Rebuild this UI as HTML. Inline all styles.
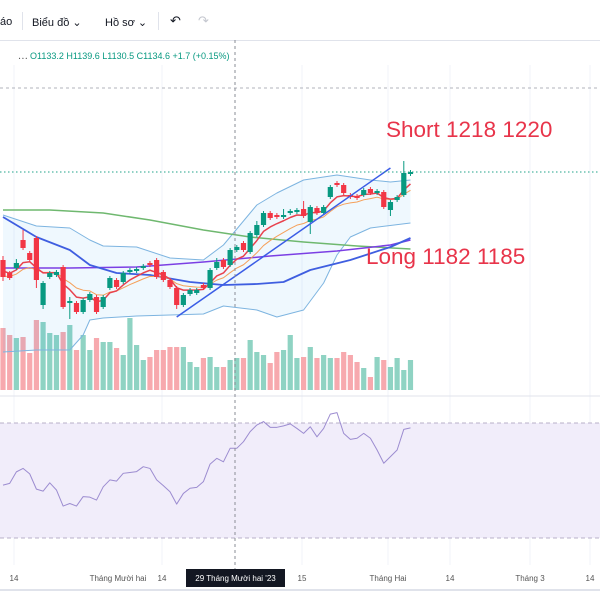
<!DOCTYPE html>
<html><head><meta charset="utf-8"><style>
html,body{margin:0;padding:0;background:#fff;width:600px;height:600px;overflow:hidden;font-family:"Liberation Sans","Noto Sans CJK SC",sans-serif}
#tb{position:absolute;left:0;top:0;width:600px;height:40px;border-bottom:1px solid #e0e3eb;font-size:11px;color:#131722}
#tb span{position:absolute;top:16px}
#ohlc{position:absolute;left:18px;top:49px;font-size:9px;color:#089981}
svg{position:absolute;left:0;top:0}
</style></head><body>
<div id="tb">
<span style="left:0">áo</span>
<span style="left:22px;top:12px;height:18px;border-left:1px solid #e0e3eb"></span>
<span style="left:32px">Biểu đồ ⌄</span>
<span style="left:105px">Hồ sơ ⌄</span>
<span style="left:158px;top:12px;height:18px;border-left:1px solid #e0e3eb"></span>
<span style="left:170px;font-size:13px;top:13px">↶</span>
<span style="left:198px;font-size:13px;top:13px;color:#c4c7cf">↷</span>
</div>
<div id="ohlc"><span style="color:#555">⋯ </span>O1133.2 H1139.6 L1130.5 C1134.6 +1.7 (+0.15%)</div>
<svg id="c" width="600" height="600"></svg>
<script>
const opens=[1176,1169.5,1172,1186,1179.5,1187,1153.5,1167.5,1168.5,1172.5,1154.5,1154.5,1150,1156,1157.5,1152.5,1162,1166,1165,1170,1170.5,1172,1174.5,1176,1170,1166,1162,1153.5,1159,1159.5,1163.5,1162,1172,1176,1173.5,1181,1184.5,1180,1188.5,1193.5,1199.5,1198.5,1197.5,1199.5,1200,1201.5,1195,1202,1199.5,1207.5,1214.5,1213.5,1208.5,1208,1208.5,1211.5,1209.5,1210,1201,1206,1208.5,1219];
const closes=[1167.5,1167,1174.5,1182,1176,1166,1164.5,1169.5,1170,1152.5,1155.5,1150,1156,1159,1150,1157.5,1167,1162.5,1169.5,1171,1171.5,1173,1173.5,1167.5,1166,1162.5,1153.5,1158.5,1161,1161,1162,1171,1175,1172.5,1181,1182.5,1181,1189.5,1193.5,1199.5,1197,1197.5,1198.5,1200.5,1201,1198,1202.5,1199.5,1202.5,1212.5,1213.5,1209.5,1207.5,1207,1211,1209.5,1210.5,1202.5,1205,1207.5,1219.5,1220];
const wickUp=[2,1,2,5,1,1,1,1,1,1,2,1,1,1,1,1,1,1,1,1,1,1,1,1,1,1,1,1,1,1,1,1,2,1,1,1,1,1,2,1,1,1,3,1,1,4,1,1,1,1,1,1,1,1,1,1,1,1,1,1,6,1];
const wickDn=[2,1,1,1,1,4,2,1,1,1,8,1,1,1,1,1,1,1,1,1,1,1,1,1,1,1,2,1,1,1,1,1,1,1,1,1,1,1,1,1,1,1,1,1,1,1,6,1,1,1,1,1,1,1,1,1,1,1,3,1,1,1];
const volumes=[62,55,52,53,37,70,68,57,55,58,65,40,55,40,52,48,48,42,35,72,45,30,33,40,40,43,43,43,28,23,32,33,23,23,30,32,32,50,38,35,27,38,40,55,32,33,43,32,35,32,32,38,35,28,22,13,33,30,23,32,20,30];
const rsi=[48.4,49,53,54.2,52.3,47,46.3,49.2,46.7,41.1,42,41.1,44.4,44.2,43.2,47.8,50.2,49.8,52.5,52.8,53.1,54.8,54.2,50.2,48.2,46.1,41.8,45.5,47.3,47.6,49.6,55.7,57.7,56.5,61.2,61.2,63.5,67,69.3,70.5,68.5,68.5,69,69.7,68.1,66.4,68.7,65.2,68.1,73.1,73.6,66.4,64.3,64.7,66.4,64.7,60.6,56,58.3,60.6,67.8,68.3];
const bbUpIdx=[0,5,10,13,15,20,25,30,33,38,41,45,50,55,58,61];
const bbUp=[1198.5,1193,1192,1186,1183,1182.5,1177,1176,1183.5,1203.5,1209.5,1216,1218.5,1216,1215,1216];
const bbLoIdx=[0,5,10,12,13,15,20,25,30,33,38,41,45,48,50,52,55,61];
const bbLo=[1130,1131,1131,1138.5,1146,1147,1148,1148.5,1149,1153,1151,1147.5,1151,1164.5,1178.5,1187.5,1192,1194.5];
const maBlueIdx=[0,5,10,13,17,22,28,33,38,42,46,52,58,61];
const maBlue=[1197.5,1187.5,1181,1173.5,1169.5,1168.5,1165,1163.5,1164,1165,1171,1176,1182.5,1187];
const maPurpleIdx=[0,10,20,30,40,50,58,61];
const maPurple=[1172,1172,1172.5,1175,1178,1180.5,1183.5,1186];
const maGreenIdx=[0,7,15,22,30,37,45,53,61];
const maGreen=[1201,1201,1199.5,1196,1191,1187.5,1185,1183,1181.5];
const trendIdx=[26,58];
const trendPx=[1147.5,1222];
const lastPrice=1220;

const NS="http://www.w3.org/2000/svg",S=document.getElementById('c');
const X=i=>3+i*6.68, Y=p=>172+(1220-p)*2, VY=v=>390-v, RY=r=>423+(70-r)*2.875;
function el(t,a,p){const e=document.createElementNS(NS,t);for(const k in a)e.setAttribute(k,a[k]);(p||S).appendChild(e);return e;}
[14,162,302,388,450,530,590].forEach(x=>{const g=el('line',{x1:x,y1:65,x2:x,y2:565,stroke:'#f0f3fa'});

});
const rb=el('rect',{x:0,y:RY(70),width:600,height:RY(30)-RY(70),fill:'#f1edfa'});


[70,30].forEach(v=>{const l=el('line',{x1:0,x2:600,y1:RY(v),y2:RY(v),stroke:'#b8b0c8','stroke-dasharray':'4 3'});

});
const hd=el('line',{x1:0,x2:600,y1:88,y2:88,stroke:'#b0b3bb','stroke-dasharray':'3 3'});


const pd=el('line',{x1:0,x2:600,y1:396,y2:396,stroke:'#e0e3eb'});


volumes.forEach((v,i)=>{const up=closes[i]>=opens[i];const r=el('rect',{x:X(i)-2.6,y:VY(v),width:5.2,height:v,fill:up?'#8fd3c3':'#f7a9ae'});

});
function interp(idx,vals){const o=[];for(let k=0;k<idx.length;k++)o.push([X(idx[k]),Y(vals[k])]);return o;}
const up=interp(bbUpIdx,bbUp),lo=interp(bbLoIdx,bbLo);
const fill=el('path',{d:'M'+up.map(p=>p.join(',')).join('L')+'L'+lo.slice().reverse().map(p=>p.join(',')).join('L')+'Z',fill:'rgba(33,150,243,0.07)'});


function pl(pts,st,w,name,dash){const p=el('polyline',{points:pts.map(p=>p.join(',')).join(' '),fill:'none',stroke:st,'stroke-width':w,'stroke-linejoin':'round'});if(dash)p.setAttribute('stroke-dasharray',dash);

return p;}
pl(up,'#7db4e0',1,'bollinger-upper');pl(lo,'#7db4e0',1,'bollinger-lower');
pl(interp(maGreenIdx,maGreen),'#6fb86f',1.5,'ma-green');
pl(interp(maPurpleIdx,maPurple),'#7b3fe4',1.5,'ma-purple');
pl(interp(maBlueIdx,maBlue),'#3f5ee0',1.8,'ma-blue');
function ema(n,start){const k=2/(n+1);let e=start;return closes.map(c=>(e=c*k+e*(1-k)));}
pl(ema(10,1168).map((v,i)=>[X(i),Y(v)]),'#f5a05a',1,'ema-orange');
pl(ema(5,1172).map((v,i)=>[X(i),Y(v)]),'#e8424e',1.5,'ema-red');
opens.forEach((o,i)=>{const c=closes[i],g=c>=o,col=g?'#089981':'#f23645';const hi=Math.max(o,c)+wickUp[i],lw=Math.min(o,c)-wickDn[i];
const w=el('line',{x1:X(i),x2:X(i),y1:Y(hi),y2:Y(lw),stroke:col});


const b=el('rect',{x:X(i)-2.6,y:Y(Math.max(o,c)),width:5.2,height:Math.max(1,Math.abs(o-c)*2),fill:col});

});
const tl=el('line',{x1:X(trendIdx[0]),y1:Y(trendPx[0]),x2:X(trendIdx[1]),y2:Y(trendPx[1]),stroke:'#3b5de6','stroke-width':1.5});


const lp=el('line',{x1:0,x2:600,y1:Y(lastPrice),y2:Y(lastPrice),stroke:'#22a38a','stroke-dasharray':'1.5 2.5'});


pl(rsi.map((v,i)=>[X(i),RY(v)]),'#9c8cd0',1,'rsi-line');
const vc=el('line',{x1:235,x2:235,y1:40,y2:570,stroke:'#8a8d96','stroke-dasharray':'3 3'});


function txt(x,y,s,sz,col,name,anchor){const t=el('text',{x:x,y:y,'font-size':sz,fill:col,'font-family':'Liberation Sans, sans-serif'});if(anchor)t.setAttribute('text-anchor',anchor);t.textContent=s;

return t;}
txt(386,137,'Short 1218 1220',22.5,'#e8344a','short-annotation');
txt(366,264,'Long 1182 1185',22.5,'#e8344a','long-annotation');
const ax=el('line',{x1:0,x2:600,y1:590,y2:590,stroke:'#e0e3eb','stroke-width':2});


const timeLabels=['14','Tháng Mười hai','14','15','Tháng Hai','14','Tháng 3','14'];
const timeX=[14,118,162,302,388,450,530,590];
timeLabels.forEach((s,k)=>txt(timeX[k],581,s,8,'#555','time-label','middle'));
const bx=el('rect',{x:186,y:569,width:99,height:18,fill:'#131722'});


txt(235.5,581,"29 Tháng Mười hai '23",8,'#fff','crosshair-time-text','middle');
</script>
</body></html>
